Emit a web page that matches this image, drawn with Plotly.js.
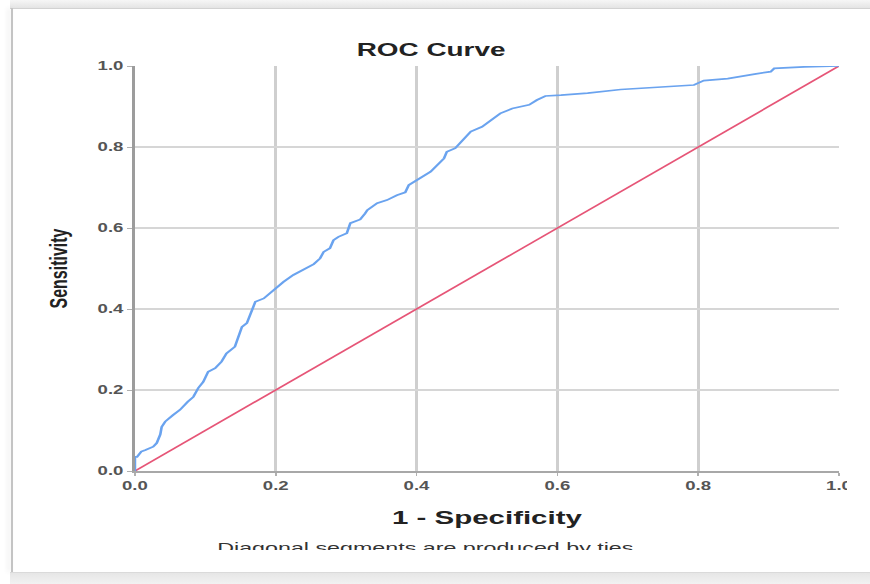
<!DOCTYPE html>
<html>
<head>
<meta charset="utf-8">
<script src="https://cdn.plot.ly/plotly-3.0.1.min.js"></script>
<style>
  html, body { margin: 0; padding: 0; background: #ffffff; }
  body { width: 870px; height: 584px; overflow: hidden; position: relative; }
  /* the chart is laid out narrow and widened horizontally */
  #chart { position: absolute; left: 0; top: 0; width: 561px; height: 584px;
           transform: scaleX(1.5508); transform-origin: 0 0; }
  .edge { position: absolute; z-index: 5; }
  #topBand { left: 10px; top: 0; width: 860px; height: 8px;
             background: linear-gradient(#f6f6f6, #e4e4e4); border-bottom: 1px solid #d2d2d2; }
  #leftLine { left: 11px; top: 8px; width: 2px; height: 564px; background: #c4c4c4;
              box-shadow: -3px 0 5px rgba(0,0,0,0.10); }
  #bottomBand { left: 10px; top: 572px; width: 860px; height: 12px;
                background: linear-gradient(#e6e6e6, #f3f3f3); border-top: 1px solid #dadada; }
  #rightCut { left: 847px; top: 9px; width: 23px; height: 563px; background: #ffffff; }
  #footCut { left: 13px; top: 550px; width: 834px; height: 22px; background: #ffffff; }
</style>
</head>
<body>
<div id="chart"></div>
<div class="edge" id="rightCut"></div>
<div class="edge" id="footCut"></div>
<div class="edge" id="topBand"></div>
<div class="edge" id="leftLine"></div>
<div class="edge" id="bottomBand"></div>
<script>
// ROC curve: false positive rate (1 - specificity) vs. true positive rate (sensitivity)
const fpr = [0, 0, 0.003, 0.009, 0.015, 0.026, 0.031, 0.036, 0.038, 0.043,
  0.054, 0.064, 0.075, 0.083, 0.090, 0.097, 0.104, 0.114, 0.123, 0.130,
  0.142, 0.147, 0.152, 0.159, 0.164, 0.168, 0.171, 0.183, 0.197, 0.211,
  0.225, 0.239, 0.254, 0.263, 0.268, 0.277, 0.282, 0.289, 0.301, 0.306,
  0.320, 0.327, 0.330, 0.344, 0.358, 0.372, 0.384, 0.389, 0.401, 0.420,
  0.439, 0.443, 0.455, 0.467, 0.477, 0.493, 0.507, 0.519, 0.536, 0.560,
  0.571, 0.583, 0.605, 0.643, 0.690, 0.737, 0.794, 0.808, 0.842, 0.880,
  0.903, 0.908, 0.951, 1.0];
const tpr = [0, 0.035, 0.035, 0.048, 0.052, 0.060, 0.069, 0.090, 0.109, 0.122,
  0.138, 0.151, 0.171, 0.183, 0.205, 0.220, 0.245, 0.254, 0.270, 0.290,
  0.307, 0.332, 0.356, 0.365, 0.385, 0.406, 0.418, 0.426, 0.447, 0.467,
  0.484, 0.496, 0.511, 0.525, 0.541, 0.550, 0.570, 0.578, 0.587, 0.612,
  0.621, 0.636, 0.644, 0.661, 0.669, 0.681, 0.688, 0.706, 0.719, 0.739,
  0.772, 0.788, 0.797, 0.821, 0.838, 0.850, 0.868, 0.883, 0.895, 0.904,
  0.916, 0.926, 0.928, 0.933, 0.942, 0.947, 0.953, 0.964, 0.969, 0.980,
  0.986, 0.994, 0.998, 1.0];

// reference line (chance)
const refX = [0, 1];
const refY = [0, 1];

// axis ticks
const tickVals = [0, 0.2, 0.4, 0.6, 0.8, 1.0];
const tickText = ['0.0', '0.2', '0.4', '0.6', '0.8', '1.0'];

const chartTitle = 'ROC Curve';
const xTitle = '1 - Specificity';
const yTitle = 'Sensitivity';
const footnote = 'Diagonal segments are produced by ties.';

const FONT = "'Liberation Sans', Arial, sans-serif";
const tickFont = { family: FONT, size: 12, color: '#555555', weight: 'bold' };

const traces = [
  {
    x: refX, y: refY, type: 'scatter', mode: 'lines',
    line: { color: '#e65577', width: 1.5 },
    hoverinfo: 'skip'
  },
  {
    x: fpr, y: tpr, type: 'scatter', mode: 'lines',
    line: { color: '#6aa3ef', width: 1.7 },
    hoverinfo: 'skip'
  }
];

const layout = {
  width: 561,
  height: 584,
  margin: { l: 87, r: 20, t: 66, b: 113 },
  paper_bgcolor: '#ffffff',
  plot_bgcolor: '#ffffff',
  showlegend: false,
  title: {
    text: chartTitle,
    font: { family: FONT, size: 18, color: '#222222', weight: 'bold' },
    x: 0.4955, xref: 'container', xanchor: 'center',
    y: 0.9144, yref: 'container', yanchor: 'middle'
  },
  xaxis: {
    range: [0, 1],
    tickmode: 'array', tickvals: tickVals, ticktext: tickText,
    tickfont: tickFont,
    ticks: 'outside', ticklen: 3, tickcolor: '#b0b0b0', tickwidth: 1,
    showgrid: true, gridcolor: '#cfcfcf', gridwidth: 2,
    zeroline: false,
    showline: true, linecolor: '#a8a8a8', linewidth: 2,
    title: {
      text: xTitle,
      font: { family: FONT, size: 19, color: '#222222', weight: 'bold' },
      standoff: 18
    },
    fixedrange: true
  },
  yaxis: {
    range: [0, 1],
    tickmode: 'array', tickvals: tickVals, ticktext: tickText,
    tickfont: tickFont,
    ticks: 'outside', ticklen: 3, tickcolor: '#b0b0b0', tickwidth: 1,
    showgrid: true, gridcolor: '#d6d6d6', gridwidth: 1.5,
    zeroline: false,
    showline: true, linecolor: '#9c9c9c', linewidth: 2,
    title: {
      text: yTitle,
      font: { family: FONT, size: 16, color: '#222222', weight: 'bold' },
      standoff: 15
    },
    fixedrange: true
  },
  annotations: [
    {
      text: footnote, xref: 'paper', yref: 'paper',
      x: 0.4167, y: -0.19, xanchor: 'center', yanchor: 'middle',
      showarrow: false,
      font: { family: FONT, size: 15, color: '#333333' }
    }
  ]
};

Plotly.newPlot('chart', traces, layout, { displayModeBar: false, staticPlot: true });
</script>
</body>
</html>
